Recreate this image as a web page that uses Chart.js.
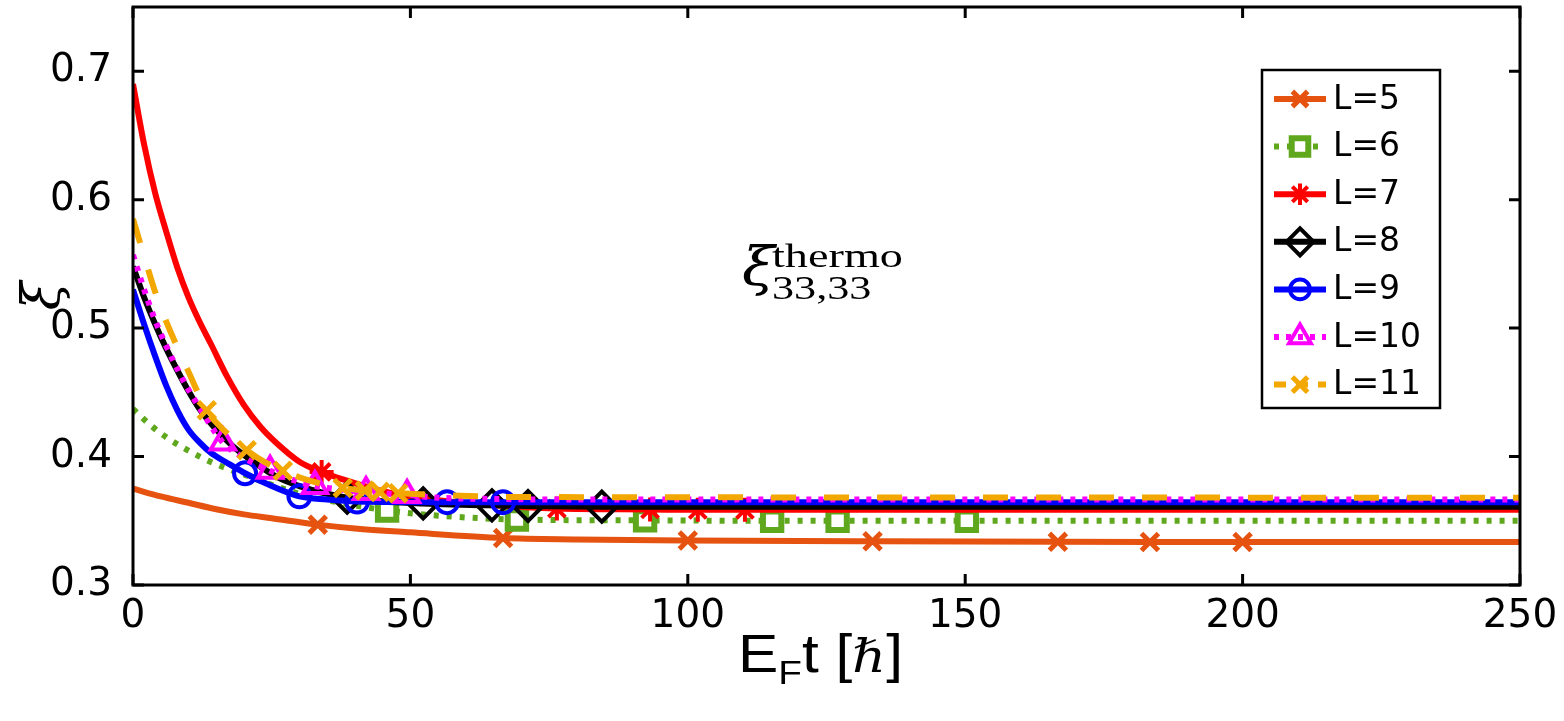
<!DOCTYPE html>
<html><head><meta charset="utf-8">
<script src="https://cdn.jsdelivr.net/npm/chart.js@4/dist/chart.umd.min.js"></script>
<style>
html,body{margin:0;padding:0;background:#fff;}
#wrap{position:relative;width:1564px;height:721px;overflow:hidden;}
#c{position:absolute;left:0;top:0;}
#xtitle{position:absolute;left:738px;top:624px;font-family:"Liberation Sans",Arial,sans-serif;font-size:53px;color:#000;white-space:nowrap;line-height:60px;transform:scaleX(1.14);transform-origin:0 0;}
#xtitle sub{font-size:34px;vertical-align:-12px;}
#xtitle i{font-family:"DejaVu Serif",serif;font-size:46px;}
.ann{position:absolute;color:#000;white-space:nowrap;transform-origin:0 0;}
#axi{left:742px;top:240px;font-family:"DejaVu Serif",serif;font-style:italic;font-size:54px;line-height:54px;transform:scaleX(1.1);}
#asup{left:772px;top:239px;font-family:"Liberation Serif",serif;font-size:34px;line-height:34px;transform:scaleX(1.36);}
#asub{left:772px;top:271px;font-family:"Liberation Serif",serif;font-size:34px;line-height:34px;transform:scaleX(1.3);}
</style>
</head><body>
<div id="wrap">
<canvas id="c" width="1564" height="721"></canvas>
<div id="xtitle">E<sub>F</sub>t [<i>ℏ</i>]</div>
<div class="ann" id="axi">ξ</div>
<div class="ann" id="asup">thermo</div>
<div class="ann" id="asub">33,33</div>
</div>
<script>
// ---- data ----
const seriesLabels = ['L=5','L=6','L=7','L=8','L=9','L=10','L=11'];
const xTicks = [0,50,100,150,200,250];
const yTicks = [0.3,0.4,0.5,0.6,0.7];

const L5_t  = [0,5,10,15,20,25,33.3,40,50,66.7,80,100,133.3,166.7,183.3,200,250];
const L5_xi = [0.375,0.369,0.364,0.359,0.355,0.352,0.347,0.344,0.341,0.3366,0.3355,0.3347,0.334,0.3336,0.3335,0.3335,0.3335];
const L5_marks = [33.3,66.7,100,133.3,166.7,183.3,200];

const L6_t  = [0,3,6,9,12,15,20,25,30,35,40,45.8,55,69.2,92.3,115.2,127,150.3,200,250];
const L6_xi = [0.437,0.425,0.415,0.407,0.400,0.394,0.386,0.378,0.371,0.366,0.362,0.358,0.354,0.351,0.3503,0.350,0.350,0.350,0.350,0.350];
const L6_marks = [45.8,69.2,92.3,115.2,127,150.3];

const L7_t  = [0,2,4,6,8,10,12,14,17,20,23,26,30,34,38,45,55,65,76.4,93.2,101.8,110.3,150,250];
const L7_xi = [0.690,0.643,0.605,0.575,0.547,0.524,0.505,0.488,0.462,0.440,0.423,0.410,0.396,0.388,0.382,0.373,0.366,0.362,0.3595,0.3588,0.3585,0.3585,0.3585,0.3585];
const L7_marks = [34,76.4,93.2,101.8,110.3];

const L8_t  = [0,2,4,6,8,10,12,15,18,22,26,30,34,38.6,45,52.3,64.7,71.2,84.5,120,250];
const L8_xi = [0.548,0.524,0.503,0.484,0.467,0.451,0.437,0.421,0.408,0.395,0.384,0.377,0.372,0.368,0.365,0.3635,0.362,0.3615,0.361,0.361,0.361];
const L8_marks = [38.6,52.3,64.7,71.2,84.5];

const L9_t  = [0,2,4,6,8,10,12,14,17,20.2,24,30,35,40.4,56.6,66.7,100,250];
const L9_xi = [0.530,0.503,0.478,0.455,0.436,0.421,0.411,0.403,0.395,0.387,0.379,0.369,0.3665,0.365,0.3645,0.3645,0.3645,0.3645];
const L9_marks = [20.2,30,40.4,56.6,66.7];

const L10_t  = [0,2,4,6,8,10,12,16.2,20,24.7,28,32.8,37,42,49.4,55,65,80,250];
const L10_xi = [0.557,0.530,0.506,0.486,0.468,0.452,0.438,0.411,0.399,0.389,0.383,0.377,0.3745,0.3725,0.370,0.368,0.367,0.3665,0.3665];
const L10_marks = [16.2,24.7,32.8,42,49.4];

const L11_t  = [0,2,4,6,8,10,13.3,17,20.5,24,27,32,37.8,41.8,44.5,47.8,55,70,250];
const L11_xi = [0.585,0.556,0.528,0.505,0.485,0.466,0.436,0.418,0.405,0.395,0.389,0.381,0.3756,0.3735,0.3725,0.3715,0.370,0.3685,0.368];
const L11_marks = [13.3,20.5,27,37.8,41.8,44.5,47.8];

// ---- styles ----
const styles = [
  {color:'#e6520f', dash:[], ps:'crossRot', r:12, bw:5, fill:'rgba(0,0,0,0)'},
  {color:'#5fa81e', dash:[5,8], ps:'rect', r:13, bw:6, fill:'#ffffff'},
  {color:'#ff0000', dash:[], ps:'star', r:12, bw:4, fill:'rgba(0,0,0,0)'},
  {color:'#000000', dash:[], ps:'rectRot', r:15, bw:4, fill:'rgba(0,0,0,0)'},
  {color:'#0000ff', dash:[], ps:'circle', r:11, bw:4, fill:'rgba(0,0,0,0)'},
  {color:'#ff00ff', dash:[5,7], ps:'triangle', r:14, bw:4, fill:'rgba(0,0,0,0)'},
  {color:'#f2a800', dash:[25,28], ps:'crossRot', r:12, bw:5, fill:'rgba(0,0,0,0)'}
];
const ts = [L5_t,L6_t,L7_t,L8_t,L9_t,L10_t,L11_t];
const xs = [L5_xi,L6_xi,L7_xi,L8_xi,L9_xi,L10_xi,L11_xi];
const ms = [L5_marks,L6_marks,L7_marks,L8_marks,L9_marks,L10_marks,L11_marks];

const datasets = seriesLabels.map((lab,i)=>{
  const s = styles[i];
  return {
    label: lab,
    data: ts[i].map((t,j)=>({x:t,y:xs[i][j]})),
    borderColor: s.color,
    borderWidth: 6,
    borderDash: s.dash,
    borderCapStyle: 'butt',
    cubicInterpolationMode: 'monotone',
    pointStyle: s.ps,
    pointBorderColor: s.color,
    pointBackgroundColor: s.fill,
    pointBorderWidth: s.bw,
    pointRadius: ctx => (ctx.raw && ms[i].includes(ctx.raw.x)) ? s.r : 0,
    pointHoverRadius: 0,
    order: 10 - i,
    fill: false
  };
});

const TICK_FONT = {family:'"DejaVu Sans", sans-serif', size:39};

function drawMarker(ctx, s, x, y){
  ctx.save();
  ctx.strokeStyle = s.color; ctx.fillStyle = s.fill; ctx.lineWidth = s.bw; ctx.setLineDash([]);
  Chart.helpers.drawPoint(ctx, {pointStyle:s.ps, radius:s.r, rotation:0, borderWidth:s.bw}, x, y);
  ctx.restore();
}

const framePlugin = {
  id:'frame',
  afterDraw(chart){
    const {ctx, chartArea:a, scales} = chart;
    ctx.save();
    ctx.strokeStyle = '#000'; ctx.lineWidth = 3; ctx.setLineDash([]);
    const tl = 11;
    ctx.beginPath();
    xTicks.forEach(v=>{
      const px = scales.x.getPixelForValue(v);
      ctx.moveTo(px, a.bottom); ctx.lineTo(px, a.bottom - tl);
      ctx.moveTo(px, a.top); ctx.lineTo(px, a.top + tl);
    });
    yTicks.forEach(v=>{
      const py = scales.y.getPixelForValue(v);
      ctx.moveTo(a.left, py); ctx.lineTo(a.left + tl, py);
      ctx.moveTo(a.right, py); ctx.lineTo(a.right - tl, py);
    });
    ctx.stroke();
    ctx.strokeRect(a.left, a.top, a.right - a.left, a.bottom - a.top);
    // legend
    const bx = 1262, by = 70, bw = 178, bh = 338;
    ctx.fillStyle = '#fff';
    ctx.fillRect(bx, by, bw, bh);
    ctx.lineWidth = 2.5;
    ctx.strokeRect(bx, by, bw, bh);
    seriesLabels.forEach((lab,i)=>{
      const s = styles[i];
      const y = 99 + i*47.6;
      ctx.save();
      ctx.strokeStyle = s.color; ctx.lineWidth = 6; ctx.setLineDash(i===6 ? [12,10] : s.dash);
      ctx.lineCap = 'butt';
      ctx.beginPath(); ctx.moveTo(1274, y); ctx.lineTo(1326, y); ctx.stroke();
      ctx.restore();
      drawMarker(ctx, Object.assign({}, s, {r: s.r*0.9}), 1300, y);
      ctx.fillStyle = '#000';
      ctx.font = '33px "DejaVu Sans", sans-serif';
      ctx.textBaseline = 'middle'; ctx.textAlign = 'left';
      ctx.fillText(lab, 1333, y + 1);
    });
    ctx.restore();
  }
};

new Chart(document.getElementById('c'), {
  type:'line',
  data:{datasets},
  options:{
    responsive:false,
    animation:false,
    events:[],
    layout:{padding:{left:0, right:44, top:7, bottom:0}},
    plugins:{legend:{display:false}, tooltip:{enabled:false}},
    scales:{
      x:{
        type:'linear', min:0, max:250,
        afterFit(scale){ scale.height = 136; scale.paddingLeft = 0; scale.paddingRight = 0; },
        afterBuildTicks(scale){ scale.ticks = xTicks.map(v=>({value:v})); },
        grid:{display:false, drawTicks:false},
        border:{display:false},
        ticks:{font:TICK_FONT, color:'#000', padding:8, maxRotation:0, autoSkip:false, callback:v=>String(v)}
      },
      y:{
        type:'linear', min:0.3, max:0.75,
        afterFit(scale){ scale.width = 133; scale.paddingTop = 0; scale.paddingBottom = 0; },
        afterBuildTicks(scale){ scale.ticks = yTicks.map(v=>({value:v})); },
        grid:{display:false, drawTicks:false},
        border:{display:false},
        ticks:{font:TICK_FONT, color:'#000', padding:21, autoSkip:false, callback:v=>Number(v).toFixed(1)},
        title:{display:true, text:'ξ', color:'#000', font:{family:'"DejaVu Serif", serif', size:52, style:'italic'}, padding:{top:14, bottom:0}}
      }
    }
  },
  plugins:[framePlugin]
});
</script>
</body></html>
